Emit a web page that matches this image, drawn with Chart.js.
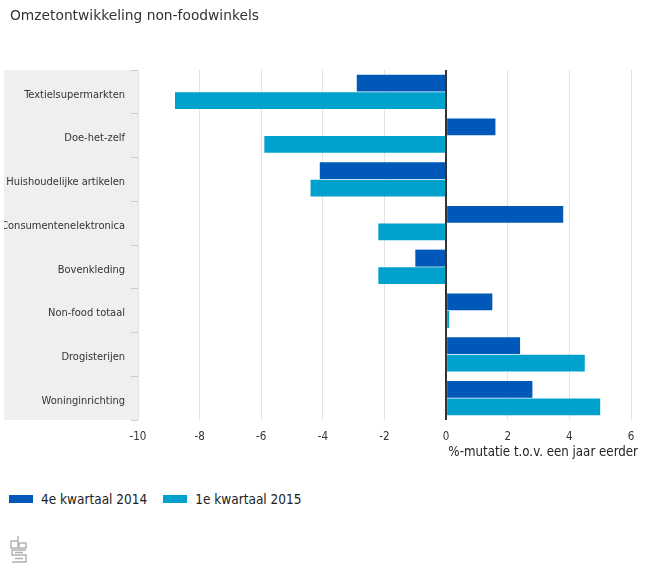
<!DOCTYPE html>
<html>
<head>
<meta charset="utf-8">
<script src="https://cdn.jsdelivr.net/npm/chart.js@4"></script>
<style>
  body { margin: 0; background: #fff; font-family: "DejaVu Sans", sans-serif; }
  #wrap { position: relative; width: 650px; height: 582px; }
  #title { position: absolute; left: 10px; top: 7px; font-size: 13.8px; color: #333; }
  #chart-box { position: absolute; left: 0; top: 0; width: 650px; height: 470px; }
  #axis-title { position: absolute; right: 12px; top: 444px; font-size: 13.2px; color: #222;
                font-family: "DejaVu Sans Condensed", "DejaVu Sans", sans-serif; }
  #legend { position: absolute; left: 9px; top: 491px; font-size: 13.5px; color: #222; display: flex;
            font-family: "DejaVu Sans Condensed", "DejaVu Sans", sans-serif; }
  .leg-item { display: flex; align-items: center; margin-right: 16px; }
  .leg-box { width: 24px; height: 8px; margin-right: 8px; }
  #logo { position: absolute; left: 10px; top: 535px; }
</style>
</head>
<body>
<div id="wrap">
  <div id="chart-box"><canvas id="chart" width="650" height="470"></canvas></div>
  <div id="title">Omzetontwikkeling non-foodwinkels</div>
  <div id="axis-title"></div>
  <div id="legend"></div>
  <svg id="logo" width="18" height="29" viewBox="0 0 18 29">
    <g fill="none" stroke="#b0b0b0" stroke-width="1.4">
      <path d="M8 1 V6"/>
      <rect x="1" y="6" width="7" height="7"/>
      <rect x="9" y="8" width="7" height="5"/>
      <path d="M16 15 H2 V20 H16 V27 H2"/>
      <path d="M5 17.5 H13 M5 23.5 H13"/>
    </g>
  </svg>
</div>
<script>
// categories, top to bottom
const categories = [
    'Textielsupermarkten',
    'Doe-het-zelf',
    'Huishoudelijke artikelen',
    'Consumentenelektronica',
    'Bovenkleding',
    'Non-food totaal',
    'Drogisterijen',
    'Woninginrichting'
];
const seriesNames = ['4e kwartaal 2014', '1e kwartaal 2015'];
const q4_2014 = [-2.9, 1.6, -4.1, 3.8, -1.0, 1.5, 2.4, 2.8];
const q1_2015 = [-8.8, -5.9, -4.4, -2.2, -2.2, 0.1, 4.5, 5.0];
const xTicks = [-10, -8, -6, -4, -2, 0, 2, 4, 6];
const xTitle = '%-mutatie t.o.v. een jaar eerder';
const seriesColors = ['#0058b8', '#00a1cd'];

const labelFont = "'DejaVu Sans Condensed', 'DejaVu Sans', sans-serif";

// grey band behind category labels
const labelBand = {
    id: 'labelBand',
    beforeDraw(chart) {
        const { ctx, chartArea } = chart;
        ctx.save();
        ctx.fillStyle = '#efefef';
        ctx.fillRect(4, chartArea.top, chartArea.left - 4, chartArea.bottom - chartArea.top);
        ctx.restore();
    }
};

const ctx = document.getElementById('chart').getContext('2d');
const chart = new Chart(ctx, {
    type: 'bar',
    data: {
        labels: categories,
        datasets: [
            { label: seriesNames[0], data: q4_2014, backgroundColor: seriesColors[0] },
            { label: seriesNames[1], data: q1_2015, backgroundColor: seriesColors[1] }
        ]
    },
    options: {
        indexAxis: 'y',
        responsive: false,
        animation: false,
        categoryPercentage: 0.8,
        barPercentage: 0.97,
        layout: { padding: { left: 4, right: 19, top: 70, bottom: 0 } },
        scales: {
            x: {
                min: -10,
                max: 6,
                afterBuildTicks: (scale) => { scale.ticks = xTicks.map(v => ({ value: v })); },
                afterFit: (scale) => { scale.height = 50; },
                grid: {
                    color: (c) => c.tick && c.tick.value === 0 ? '#333' : '#e3e3e3',
                    lineWidth: (c) => c.tick && c.tick.value === 0 ? 2 : 1,
                    drawTicks: false
                },
                border: { display: false },
                ticks: {
                    color: '#333',
                    padding: 10,
                    font: { family: labelFont, size: 11.5 }
                }
            },
            y: {
                afterFit: (scale) => { scale.width = 134; },
                grid: {
                    drawOnChartArea: false,
                    color: '#cccccc',
                    tickLength: 7
                },
                border: { display: false },
                ticks: {
                    color: '#333',
                    padding: 6,
                    labelOffset: 3,
                    font: { family: labelFont, size: 11 }
                }
            }
        },
        plugins: {
            legend: { display: false },
            tooltip: { enabled: false }
        }
    },
    plugins: [labelBand]
});

document.getElementById('axis-title').textContent = xTitle;

// legend built from series arrays
const legend = document.getElementById('legend');
legend.innerHTML = seriesNames.map((name, i) => `
    <div class="leg-item">
        <div class="leg-box" style="background:${seriesColors[i]};"></div>
        <span>${name}</span>
    </div>`).join('');
</script>
</body>
</html>
